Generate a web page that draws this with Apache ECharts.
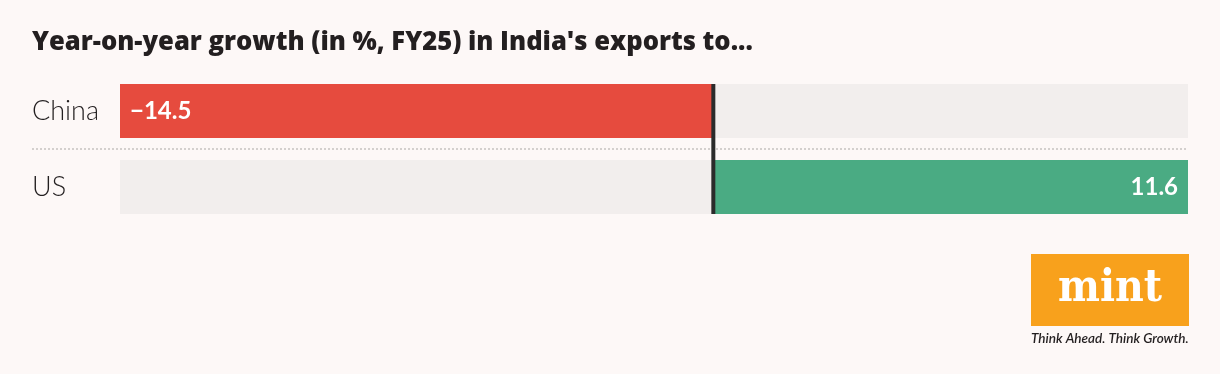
<!DOCTYPE html>
<html>
<head>
<meta charset="utf-8">
<script src="https://cdn.jsdelivr.net/npm/echarts@6/dist/echarts.min.js"></script>
<style>
  html, body { margin: 0; padding: 0; background: #fdf8f7; }
  #chart { width: 1220px; height: 374px; }
</style>
</head>
<body>
<div id="chart"></div>
<script>
const titleText = "Year-on-year growth (in %, FY25) in India's exports to...";
const categories = ['China', 'US'];
const growth = [-14.5, 11.6];
const axisMin = -14.5;
const axisMax = 11.6;

const BAR = 54;
const colorNeg = '#e64b3e';
const colorPos = '#4aab83';

function fmt(v) {
  return v < 0 ? '\u2212' + Math.abs(v).toFixed(1) : v.toFixed(1);
}

const chart = echarts.init(document.getElementById('chart'), null, { renderer: 'canvas' });

chart.setOption({
  backgroundColor: '#fdf8f7',
  animation: false,
  title: {
    text: titleText,
    left: 32,
    top: 31,
    padding: 0,
    textStyle: {
      fontFamily: 'Open Sans',
      fontWeight: 800,
      fontSize: 25.6,
      lineHeight: 24,
      color: '#231f20'
    }
  },
  grid: { left: 120, right: 32, top: 73, height: 152 },
  xAxis: {
    type: 'value',
    min: axisMin,
    max: axisMax,
    show: false
  },
  yAxis: {
    type: 'category',
    data: categories,
    inverse: true,
    axisLine: { show: false },
    axisTick: { show: false },
    splitLine: { show: false },
    axisLabel: {
      align: 'left',
      margin: 88,
      fontFamily: 'Lato',
      fontWeight: 300,
      fontSize: 27,
      color: '#231f20'
    }
  },
  series: [
    {
      type: 'bar',
      barWidth: BAR,
      showBackground: true,
      backgroundStyle: { color: '#f2eeed' },
      data: growth.map(v => ({
        value: v,
        itemStyle: { color: v < 0 ? colorNeg : colorPos },
        label: { position: v < 0 ? 'insideLeft' : 'insideRight' }
      })),
      label: {
        show: true,
        distance: 10,
        formatter: p => fmt(p.value),
        fontFamily: 'Lato',
        fontWeight: 'bold',
        fontSize: 24,
        color: '#ffffff'
      },
      z: 2
    },
    {
      type: 'custom',
      clip: false,
      z: 5,
      silent: true,
      data: [[0, 0]],
      encode: { x: 0, y: 1 },
      renderItem: function (params, api) {
        const n = categories.length;
        const first = api.coord([0, 0]);
        const last = api.coord([0, n - 1]);
        const band = api.size([0, 1])[1];
        const half = BAR / 2;
        const cs = params.coordSys;
        const children = [];
        for (let i = 0; i < n - 1; i++) {
          const c = api.coord([0, i]);
          const y = Math.round(c[1] + band / 2);
          children.push({
            type: 'line',
            shape: { x1: 32, y1: y, x2: cs.x + cs.width, y2: y },
            style: { stroke: '#d4d0ce', lineWidth: 2, lineDash: [2, 2] }
          });
        }
        children.push({
          type: 'rect',
          shape: { x: first[0] - 2, y: first[1] - half, width: 4, height: last[1] - first[1] + 2 * half },
          style: { fill: '#2b2b2b' },
          z2: 10
        });
        return { type: 'group', children: children };
      }
    }
  ],
  graphic: [
    {
      type: 'rect',
      shape: { x: 1031, y: 254, width: 158, height: 72 },
      style: { fill: '#f8a11c' }
    },
    {
      type: 'text',
      x: 1110,
      y: 290,
      style: {
        text: 'mint',
        fill: '#ffffff',
        font: 'bold 44px "DejaVu Serif Condensed", "DejaVu Serif"',
        align: 'center',
        verticalAlign: 'middle'
      }
    },
    {
      type: 'text',
      x: 1031,
      y: 339,
      style: {
        text: 'Think Ahead. Think Growth.',
        fill: '#231f20',
        font: 'italic 600 13.5px "Lato"',
        align: 'left',
        verticalAlign: 'middle'
      }
    }
  ]
});
</script>
</body>
</html>
